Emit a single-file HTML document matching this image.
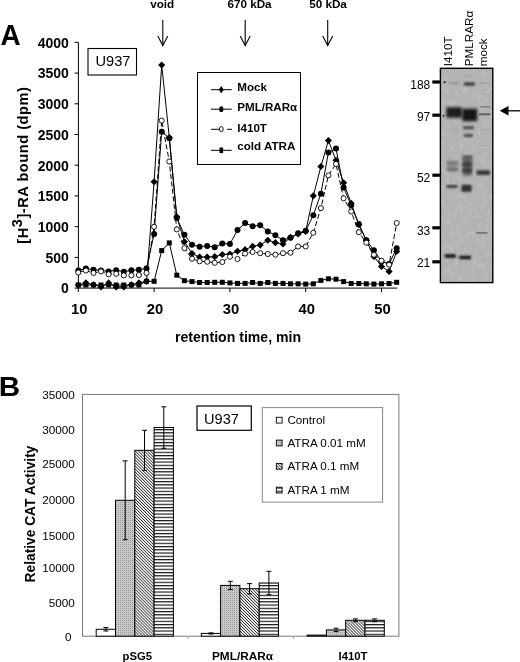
<!DOCTYPE html>
<html><head><meta charset="utf-8"><style>
html,body{margin:0;padding:0;background:#fff;width:520px;height:662px;overflow:hidden}
svg{display:block;filter:blur(0.35px)}
text{font-family:"Liberation Sans",sans-serif;fill:#000}
</style></head><body>
<svg width="520" height="662" viewBox="0 0 520 662">
<rect width="520" height="662" fill="#fff"/>
<text transform="translate(0.6,44.9) scale(0.93,1)" font-size="30" font-weight="bold">A</text>
<line x1="78.4" y1="42.3" x2="78.4" y2="288.1" stroke="#000" stroke-width="1"/>
<line x1="74.6" y1="288.1" x2="78.4" y2="288.1" stroke="#000" stroke-width="1"/>
<text x="68.8" y="293.4" font-size="14" font-weight="bold" text-anchor="end">0</text>
<line x1="74.6" y1="257.4" x2="78.4" y2="257.4" stroke="#000" stroke-width="1"/>
<text x="68.8" y="262.7" font-size="14" font-weight="bold" text-anchor="end">500</text>
<line x1="74.6" y1="226.7" x2="78.4" y2="226.7" stroke="#000" stroke-width="1"/>
<text x="68.8" y="232.0" font-size="14" font-weight="bold" text-anchor="end">1000</text>
<line x1="74.6" y1="195.9" x2="78.4" y2="195.9" stroke="#000" stroke-width="1"/>
<text x="68.8" y="201.2" font-size="14" font-weight="bold" text-anchor="end">1500</text>
<line x1="74.6" y1="165.2" x2="78.4" y2="165.2" stroke="#000" stroke-width="1"/>
<text x="68.8" y="170.5" font-size="14" font-weight="bold" text-anchor="end">2000</text>
<line x1="74.6" y1="134.5" x2="78.4" y2="134.5" stroke="#000" stroke-width="1"/>
<text x="68.8" y="139.8" font-size="14" font-weight="bold" text-anchor="end">2500</text>
<line x1="74.6" y1="103.8" x2="78.4" y2="103.8" stroke="#000" stroke-width="1"/>
<text x="68.8" y="109.1" font-size="14" font-weight="bold" text-anchor="end">3000</text>
<line x1="74.6" y1="73.1" x2="78.4" y2="73.1" stroke="#000" stroke-width="1"/>
<text x="68.8" y="78.4" font-size="14" font-weight="bold" text-anchor="end">3500</text>
<line x1="74.6" y1="42.3" x2="78.4" y2="42.3" stroke="#000" stroke-width="1"/>
<text x="68.8" y="47.6" font-size="14" font-weight="bold" text-anchor="end">4000</text>
<line x1="78.3" y1="288.1" x2="397.2" y2="288.1" stroke="#000" stroke-width="1"/>
<line x1="78.3" y1="288.1" x2="78.3" y2="292" stroke="#000" stroke-width="1"/>
<text x="79.3" y="314.3" font-size="14.8" font-weight="bold" text-anchor="middle">10</text>
<line x1="154.1" y1="288.1" x2="154.1" y2="292" stroke="#000" stroke-width="1"/>
<text x="155.1" y="314.3" font-size="14.8" font-weight="bold" text-anchor="middle">20</text>
<line x1="229.9" y1="288.1" x2="229.9" y2="292" stroke="#000" stroke-width="1"/>
<text x="230.9" y="314.3" font-size="14.8" font-weight="bold" text-anchor="middle">30</text>
<line x1="305.7" y1="288.1" x2="305.7" y2="292" stroke="#000" stroke-width="1"/>
<text x="306.7" y="314.3" font-size="14.8" font-weight="bold" text-anchor="middle">40</text>
<line x1="381.5" y1="288.1" x2="381.5" y2="292" stroke="#000" stroke-width="1"/>
<text x="382.5" y="314.3" font-size="14.8" font-weight="bold" text-anchor="middle">50</text>
<text x="175" y="342.4" font-size="14.1" font-weight="bold">retention time, min</text>
<text transform="translate(28.1,165.4) rotate(-90)" font-size="14.6" font-weight="bold" text-anchor="middle" textLength="156.5" lengthAdjust="spacing">[H<tspan dy="-6.5">3</tspan><tspan dy="6.5">]-RA bound (dpm)</tspan></text>
<rect x="88" y="48.5" width="48.5" height="26.5" fill="none" stroke="#000" stroke-width="1.1"/>
<text x="95.5" y="66" font-size="14.6">U937</text>
<line x1="162.8" y1="20" x2="162.8" y2="45.5" stroke="#000" stroke-width="1.1"/>
<polyline points="157.8,36 162.8,45.6 167.8,36" fill="none" stroke="#000" stroke-width="1.1"/>
<text x="162.2" y="8" font-size="11.7" font-weight="bold" text-anchor="middle">void</text>
<line x1="245.2" y1="20" x2="245.2" y2="45.5" stroke="#000" stroke-width="1.1"/>
<polyline points="240.2,36 245.2,45.6 250.2,36" fill="none" stroke="#000" stroke-width="1.1"/>
<text x="249.5" y="8" font-size="11.7" font-weight="bold" text-anchor="middle">670 kDa</text>
<line x1="327.7" y1="20" x2="327.7" y2="45.5" stroke="#000" stroke-width="1.1"/>
<polyline points="322.7,36 327.7,45.6 332.7,36" fill="none" stroke="#000" stroke-width="1.1"/>
<text x="328" y="8" font-size="11.7" font-weight="bold" text-anchor="middle">50 kDa</text>
<polyline points="78.3,285.0 85.9,282.9 93.5,284.7 101.0,286.9 108.6,282.9 116.2,286.9 123.8,286.9 131.4,284.7 138.9,282.9 146.5,281.3 154.1,181.8 161.7,65.0 169.3,137.5 176.8,216.8 184.4,241.7 192.0,253.6 199.6,257.1 207.2,257.1 214.7,256.7 222.3,254.5 229.9,254.0 237.5,251.3 245.1,249.7 252.6,246.3 260.2,245.1 267.8,240.2 275.4,242.7 283.0,244.0 290.5,237.3 298.1,234.0 305.7,231.4 313.3,195.8 320.9,166.6 328.4,140.5 336.0,160.3 343.6,182.8 351.2,203.3 358.8,224.7 366.3,240.2 373.9,256.5 381.5,266.4 389.1,271.4 396.7,251.5" fill="none" stroke="#000" stroke-width="1" />
<path d="M78.3,281.5 L81.8,285.0 L78.3,288.6 L74.8,285.0Z" fill="#000"/>
<path d="M85.9,279.3 L89.4,282.9 L85.9,286.4 L82.3,282.9Z" fill="#000"/>
<path d="M93.5,281.2 L97.0,284.7 L93.5,288.3 L89.9,284.7Z" fill="#000"/>
<path d="M101.0,283.3 L104.6,286.9 L101.0,290.4 L97.5,286.9Z" fill="#000"/>
<path d="M108.6,279.3 L112.2,282.9 L108.6,286.4 L105.1,282.9Z" fill="#000"/>
<path d="M116.2,283.3 L119.7,286.9 L116.2,290.4 L112.6,286.9Z" fill="#000"/>
<path d="M123.8,283.3 L127.3,286.9 L123.8,290.4 L120.2,286.9Z" fill="#000"/>
<path d="M131.4,281.2 L134.9,284.7 L131.4,288.3 L127.8,284.7Z" fill="#000"/>
<path d="M138.9,279.3 L142.5,282.9 L138.9,286.4 L135.4,282.9Z" fill="#000"/>
<path d="M146.5,277.8 L150.1,281.3 L146.5,284.9 L143.0,281.3Z" fill="#000"/>
<path d="M154.1,178.2 L157.7,181.8 L154.1,185.3 L150.5,181.8Z" fill="#000"/>
<path d="M161.7,61.5 L165.2,65.0 L161.7,68.6 L158.1,65.0Z" fill="#000"/>
<path d="M169.3,134.0 L172.8,137.5 L169.3,141.1 L165.7,137.5Z" fill="#000"/>
<path d="M176.8,213.3 L180.4,216.8 L176.8,220.4 L173.3,216.8Z" fill="#000"/>
<path d="M184.4,238.2 L188.0,241.7 L184.4,245.3 L180.9,241.7Z" fill="#000"/>
<path d="M192.0,250.1 L195.6,253.6 L192.0,257.2 L188.4,253.6Z" fill="#000"/>
<path d="M199.6,253.6 L203.1,257.1 L199.6,260.7 L196.0,257.1Z" fill="#000"/>
<path d="M207.2,253.5 L210.7,257.1 L207.2,260.6 L203.6,257.1Z" fill="#000"/>
<path d="M214.7,253.1 L218.3,256.7 L214.7,260.2 L211.2,256.7Z" fill="#000"/>
<path d="M222.3,250.9 L225.9,254.5 L222.3,258.0 L218.8,254.5Z" fill="#000"/>
<path d="M229.9,250.4 L233.4,254.0 L229.9,257.5 L226.3,254.0Z" fill="#000"/>
<path d="M237.5,247.7 L241.0,251.3 L237.5,254.8 L233.9,251.3Z" fill="#000"/>
<path d="M245.1,246.1 L248.6,249.7 L245.1,253.2 L241.5,249.7Z" fill="#000"/>
<path d="M252.6,242.8 L256.2,246.3 L252.6,249.9 L249.1,246.3Z" fill="#000"/>
<path d="M260.2,241.6 L263.8,245.1 L260.2,248.7 L256.7,245.1Z" fill="#000"/>
<path d="M267.8,236.7 L271.4,240.2 L267.8,243.8 L264.2,240.2Z" fill="#000"/>
<path d="M275.4,239.1 L278.9,242.7 L275.4,246.2 L271.8,242.7Z" fill="#000"/>
<path d="M283.0,240.4 L286.5,244.0 L283.0,247.5 L279.4,244.0Z" fill="#000"/>
<path d="M290.5,233.7 L294.1,237.3 L290.5,240.8 L287.0,237.3Z" fill="#000"/>
<path d="M298.1,230.4 L301.7,234.0 L298.1,237.5 L294.6,234.0Z" fill="#000"/>
<path d="M305.7,227.9 L309.2,231.4 L305.7,235.0 L302.1,231.4Z" fill="#000"/>
<path d="M313.3,192.3 L316.8,195.8 L313.3,199.4 L309.7,195.8Z" fill="#000"/>
<path d="M320.9,163.0 L324.4,166.6 L320.9,170.1 L317.3,166.6Z" fill="#000"/>
<path d="M328.4,136.9 L332.0,140.5 L328.4,144.0 L324.9,140.5Z" fill="#000"/>
<path d="M336.0,156.7 L339.6,160.3 L336.0,163.8 L332.5,160.3Z" fill="#000"/>
<path d="M343.6,179.2 L347.2,182.8 L343.6,186.3 L340.1,182.8Z" fill="#000"/>
<path d="M351.2,199.7 L354.7,203.3 L351.2,206.8 L347.6,203.3Z" fill="#000"/>
<path d="M358.8,221.2 L362.3,224.7 L358.8,228.3 L355.2,224.7Z" fill="#000"/>
<path d="M366.3,236.7 L369.9,240.2 L366.3,243.8 L362.8,240.2Z" fill="#000"/>
<path d="M373.9,252.9 L377.5,256.5 L373.9,260.0 L370.4,256.5Z" fill="#000"/>
<path d="M381.5,262.9 L385.1,266.4 L381.5,270.0 L377.9,266.4Z" fill="#000"/>
<path d="M389.1,267.8 L392.6,271.4 L389.1,274.9 L385.5,271.4Z" fill="#000"/>
<path d="M396.7,247.9 L400.2,251.5 L396.7,255.0 L393.1,251.5Z" fill="#000"/>
<polyline points="78.3,270.5 85.9,268.4 93.5,269.8 101.0,270.5 108.6,271.4 116.2,270.2 123.8,271.8 131.4,270.2 138.9,269.8 146.5,268.4 154.1,234.0 161.7,131.7 169.3,138.2 176.8,218.0 184.4,234.8 192.0,244.8 199.6,246.7 207.2,245.9 214.7,247.2 222.3,243.5 229.9,244.0 237.5,230.0 245.1,223.0 252.6,226.2 260.2,225.2 267.8,231.4 275.4,235.3 283.0,240.2 290.5,237.7 298.1,233.2 305.7,230.8 313.3,215.2 320.9,193.7 328.4,152.6 336.0,148.6 343.6,187.4 351.2,205.3 358.8,224.1 366.3,240.2 373.9,250.2 381.5,261.4 389.1,263.9 396.7,248.2" fill="none" stroke="#000" stroke-width="1" />
<circle cx="78.3" cy="270.5" r="3.0" fill="#000"/>
<circle cx="85.9" cy="268.4" r="3.0" fill="#000"/>
<circle cx="93.5" cy="269.8" r="3.0" fill="#000"/>
<circle cx="101.0" cy="270.5" r="3.0" fill="#000"/>
<circle cx="108.6" cy="271.4" r="3.0" fill="#000"/>
<circle cx="116.2" cy="270.2" r="3.0" fill="#000"/>
<circle cx="123.8" cy="271.8" r="3.0" fill="#000"/>
<circle cx="131.4" cy="270.2" r="3.0" fill="#000"/>
<circle cx="138.9" cy="269.8" r="3.0" fill="#000"/>
<circle cx="146.5" cy="268.4" r="3.0" fill="#000"/>
<circle cx="154.1" cy="234.0" r="3.0" fill="#000"/>
<circle cx="161.7" cy="131.7" r="3.0" fill="#000"/>
<circle cx="169.3" cy="138.2" r="3.0" fill="#000"/>
<circle cx="176.8" cy="218.0" r="3.0" fill="#000"/>
<circle cx="184.4" cy="234.8" r="3.0" fill="#000"/>
<circle cx="192.0" cy="244.8" r="3.0" fill="#000"/>
<circle cx="199.6" cy="246.7" r="3.0" fill="#000"/>
<circle cx="207.2" cy="245.9" r="3.0" fill="#000"/>
<circle cx="214.7" cy="247.2" r="3.0" fill="#000"/>
<circle cx="222.3" cy="243.5" r="3.0" fill="#000"/>
<circle cx="229.9" cy="244.0" r="3.0" fill="#000"/>
<circle cx="237.5" cy="230.0" r="3.0" fill="#000"/>
<circle cx="245.1" cy="223.0" r="3.0" fill="#000"/>
<circle cx="252.6" cy="226.2" r="3.0" fill="#000"/>
<circle cx="260.2" cy="225.2" r="3.0" fill="#000"/>
<circle cx="267.8" cy="231.4" r="3.0" fill="#000"/>
<circle cx="275.4" cy="235.3" r="3.0" fill="#000"/>
<circle cx="283.0" cy="240.2" r="3.0" fill="#000"/>
<circle cx="290.5" cy="237.7" r="3.0" fill="#000"/>
<circle cx="298.1" cy="233.2" r="3.0" fill="#000"/>
<circle cx="305.7" cy="230.8" r="3.0" fill="#000"/>
<circle cx="313.3" cy="215.2" r="3.0" fill="#000"/>
<circle cx="320.9" cy="193.7" r="3.0" fill="#000"/>
<circle cx="328.4" cy="152.6" r="3.0" fill="#000"/>
<circle cx="336.0" cy="148.6" r="3.0" fill="#000"/>
<circle cx="343.6" cy="187.4" r="3.0" fill="#000"/>
<circle cx="351.2" cy="205.3" r="3.0" fill="#000"/>
<circle cx="358.8" cy="224.1" r="3.0" fill="#000"/>
<circle cx="366.3" cy="240.2" r="3.0" fill="#000"/>
<circle cx="373.9" cy="250.2" r="3.0" fill="#000"/>
<circle cx="381.5" cy="261.4" r="3.0" fill="#000"/>
<circle cx="389.1" cy="263.9" r="3.0" fill="#000"/>
<circle cx="396.7" cy="248.2" r="3.0" fill="#000"/>
<polyline points="78.3,272.5 85.9,270.5 93.5,273.0 101.0,271.4 108.6,274.3 116.2,273.8 123.8,275.4 131.4,275.4 138.9,275.0 146.5,273.0 154.1,226.8 161.7,120.6 169.3,161.5 176.8,229.4 184.4,248.2 192.0,258.7 199.6,261.3 207.2,261.7 214.7,262.8 222.3,262.0 229.9,256.7 237.5,259.0 245.1,253.6 252.6,252.0 260.2,253.2 267.8,254.0 275.4,254.7 283.0,253.2 290.5,252.7 298.1,246.5 305.7,246.5 313.3,232.8 320.9,208.1 328.4,175.4 336.0,164.0 343.6,198.3 351.2,211.5 358.8,232.2 366.3,242.7 373.9,254.7 381.5,260.7 389.1,264.7 396.7,223.0" fill="none" stroke="#000" stroke-width="1" stroke-dasharray="5,2.5"/>
<circle cx="78.3" cy="272.5" r="2.55" fill="#fff" stroke="#000" stroke-width="0.9"/>
<circle cx="85.9" cy="270.5" r="2.55" fill="#fff" stroke="#000" stroke-width="0.9"/>
<circle cx="93.5" cy="273.0" r="2.55" fill="#fff" stroke="#000" stroke-width="0.9"/>
<circle cx="101.0" cy="271.4" r="2.55" fill="#fff" stroke="#000" stroke-width="0.9"/>
<circle cx="108.6" cy="274.3" r="2.55" fill="#fff" stroke="#000" stroke-width="0.9"/>
<circle cx="116.2" cy="273.8" r="2.55" fill="#fff" stroke="#000" stroke-width="0.9"/>
<circle cx="123.8" cy="275.4" r="2.55" fill="#fff" stroke="#000" stroke-width="0.9"/>
<circle cx="131.4" cy="275.4" r="2.55" fill="#fff" stroke="#000" stroke-width="0.9"/>
<circle cx="138.9" cy="275.0" r="2.55" fill="#fff" stroke="#000" stroke-width="0.9"/>
<circle cx="146.5" cy="273.0" r="2.55" fill="#fff" stroke="#000" stroke-width="0.9"/>
<circle cx="154.1" cy="226.8" r="2.55" fill="#fff" stroke="#000" stroke-width="0.9"/>
<circle cx="161.7" cy="120.6" r="2.55" fill="#fff" stroke="#000" stroke-width="0.9"/>
<circle cx="169.3" cy="161.5" r="2.55" fill="#fff" stroke="#000" stroke-width="0.9"/>
<circle cx="176.8" cy="229.4" r="2.55" fill="#fff" stroke="#000" stroke-width="0.9"/>
<circle cx="184.4" cy="248.2" r="2.55" fill="#fff" stroke="#000" stroke-width="0.9"/>
<circle cx="192.0" cy="258.7" r="2.55" fill="#fff" stroke="#000" stroke-width="0.9"/>
<circle cx="199.6" cy="261.3" r="2.55" fill="#fff" stroke="#000" stroke-width="0.9"/>
<circle cx="207.2" cy="261.7" r="2.55" fill="#fff" stroke="#000" stroke-width="0.9"/>
<circle cx="214.7" cy="262.8" r="2.55" fill="#fff" stroke="#000" stroke-width="0.9"/>
<circle cx="222.3" cy="262.0" r="2.55" fill="#fff" stroke="#000" stroke-width="0.9"/>
<circle cx="229.9" cy="256.7" r="2.55" fill="#fff" stroke="#000" stroke-width="0.9"/>
<circle cx="237.5" cy="259.0" r="2.55" fill="#fff" stroke="#000" stroke-width="0.9"/>
<circle cx="245.1" cy="253.6" r="2.55" fill="#fff" stroke="#000" stroke-width="0.9"/>
<circle cx="252.6" cy="252.0" r="2.55" fill="#fff" stroke="#000" stroke-width="0.9"/>
<circle cx="260.2" cy="253.2" r="2.55" fill="#fff" stroke="#000" stroke-width="0.9"/>
<circle cx="267.8" cy="254.0" r="2.55" fill="#fff" stroke="#000" stroke-width="0.9"/>
<circle cx="275.4" cy="254.7" r="2.55" fill="#fff" stroke="#000" stroke-width="0.9"/>
<circle cx="283.0" cy="253.2" r="2.55" fill="#fff" stroke="#000" stroke-width="0.9"/>
<circle cx="290.5" cy="252.7" r="2.55" fill="#fff" stroke="#000" stroke-width="0.9"/>
<circle cx="298.1" cy="246.5" r="2.55" fill="#fff" stroke="#000" stroke-width="0.9"/>
<circle cx="305.7" cy="246.5" r="2.55" fill="#fff" stroke="#000" stroke-width="0.9"/>
<circle cx="313.3" cy="232.8" r="2.55" fill="#fff" stroke="#000" stroke-width="0.9"/>
<circle cx="320.9" cy="208.1" r="2.55" fill="#fff" stroke="#000" stroke-width="0.9"/>
<circle cx="328.4" cy="175.4" r="2.55" fill="#fff" stroke="#000" stroke-width="0.9"/>
<circle cx="336.0" cy="164.0" r="2.55" fill="#fff" stroke="#000" stroke-width="0.9"/>
<circle cx="343.6" cy="198.3" r="2.55" fill="#fff" stroke="#000" stroke-width="0.9"/>
<circle cx="351.2" cy="211.5" r="2.55" fill="#fff" stroke="#000" stroke-width="0.9"/>
<circle cx="358.8" cy="232.2" r="2.55" fill="#fff" stroke="#000" stroke-width="0.9"/>
<circle cx="366.3" cy="242.7" r="2.55" fill="#fff" stroke="#000" stroke-width="0.9"/>
<circle cx="373.9" cy="254.7" r="2.55" fill="#fff" stroke="#000" stroke-width="0.9"/>
<circle cx="381.5" cy="260.7" r="2.55" fill="#fff" stroke="#000" stroke-width="0.9"/>
<circle cx="389.1" cy="264.7" r="2.55" fill="#fff" stroke="#000" stroke-width="0.9"/>
<circle cx="396.7" cy="223.0" r="2.55" fill="#fff" stroke="#000" stroke-width="0.9"/>
<polyline points="78.3,285.0 85.9,285.0 93.5,285.0 101.0,285.0 108.6,285.0 116.2,285.0 123.8,285.0 131.4,285.0 138.9,285.0 146.5,281.3 154.1,281.3 161.7,250.6 169.3,242.9 176.8,275.2 184.4,280.7 192.0,281.6 199.6,282.5 207.2,282.5 214.7,282.3 222.3,282.3 229.9,282.9 237.5,283.4 245.1,283.4 252.6,282.5 260.2,283.4 267.8,282.5 275.4,283.4 283.0,283.4 290.5,283.8 298.1,283.8 305.7,284.1 313.3,283.8 320.9,280.4 328.4,278.8 336.0,279.2 343.6,281.6 351.2,283.5 358.8,283.5 366.3,283.8 373.9,284.1 381.5,283.8 389.1,283.5 396.7,282.3" fill="none" stroke="#000" stroke-width="1" />
<rect x="75.8" y="282.5" width="5.0" height="5.0" fill="#000"/>
<rect x="83.4" y="282.5" width="5.0" height="5.0" fill="#000"/>
<rect x="91.0" y="282.5" width="5.0" height="5.0" fill="#000"/>
<rect x="98.5" y="282.5" width="5.0" height="5.0" fill="#000"/>
<rect x="106.1" y="282.5" width="5.0" height="5.0" fill="#000"/>
<rect x="113.7" y="282.5" width="5.0" height="5.0" fill="#000"/>
<rect x="121.3" y="282.5" width="5.0" height="5.0" fill="#000"/>
<rect x="128.9" y="282.5" width="5.0" height="5.0" fill="#000"/>
<rect x="136.4" y="282.5" width="5.0" height="5.0" fill="#000"/>
<rect x="144.0" y="278.8" width="5.0" height="5.0" fill="#000"/>
<rect x="151.6" y="278.8" width="5.0" height="5.0" fill="#000"/>
<rect x="159.2" y="248.1" width="5.0" height="5.0" fill="#000"/>
<rect x="166.8" y="240.4" width="5.0" height="5.0" fill="#000"/>
<rect x="174.3" y="272.7" width="5.0" height="5.0" fill="#000"/>
<rect x="181.9" y="278.2" width="5.0" height="5.0" fill="#000"/>
<rect x="189.5" y="279.1" width="5.0" height="5.0" fill="#000"/>
<rect x="197.1" y="280.0" width="5.0" height="5.0" fill="#000"/>
<rect x="204.7" y="280.0" width="5.0" height="5.0" fill="#000"/>
<rect x="212.2" y="279.8" width="5.0" height="5.0" fill="#000"/>
<rect x="219.8" y="279.8" width="5.0" height="5.0" fill="#000"/>
<rect x="227.4" y="280.4" width="5.0" height="5.0" fill="#000"/>
<rect x="235.0" y="280.9" width="5.0" height="5.0" fill="#000"/>
<rect x="242.6" y="280.9" width="5.0" height="5.0" fill="#000"/>
<rect x="250.1" y="280.0" width="5.0" height="5.0" fill="#000"/>
<rect x="257.7" y="280.9" width="5.0" height="5.0" fill="#000"/>
<rect x="265.3" y="280.0" width="5.0" height="5.0" fill="#000"/>
<rect x="272.9" y="280.9" width="5.0" height="5.0" fill="#000"/>
<rect x="280.5" y="280.9" width="5.0" height="5.0" fill="#000"/>
<rect x="288.0" y="281.3" width="5.0" height="5.0" fill="#000"/>
<rect x="295.6" y="281.3" width="5.0" height="5.0" fill="#000"/>
<rect x="303.2" y="281.6" width="5.0" height="5.0" fill="#000"/>
<rect x="310.8" y="281.3" width="5.0" height="5.0" fill="#000"/>
<rect x="318.4" y="277.9" width="5.0" height="5.0" fill="#000"/>
<rect x="325.9" y="276.3" width="5.0" height="5.0" fill="#000"/>
<rect x="333.5" y="276.7" width="5.0" height="5.0" fill="#000"/>
<rect x="341.1" y="279.1" width="5.0" height="5.0" fill="#000"/>
<rect x="348.7" y="281.0" width="5.0" height="5.0" fill="#000"/>
<rect x="356.3" y="281.0" width="5.0" height="5.0" fill="#000"/>
<rect x="363.8" y="281.3" width="5.0" height="5.0" fill="#000"/>
<rect x="371.4" y="281.6" width="5.0" height="5.0" fill="#000"/>
<rect x="379.0" y="281.3" width="5.0" height="5.0" fill="#000"/>
<rect x="386.6" y="281.0" width="5.0" height="5.0" fill="#000"/>
<rect x="394.2" y="279.8" width="5.0" height="5.0" fill="#000"/>
<rect x="197.5" y="72.5" width="103" height="92" fill="#fff" stroke="#000" stroke-width="1"/>
<line x1="211" y1="89.7" x2="231.7" y2="89.7" stroke="#000" stroke-width="1"/>
<path d="M221.3,86.10000000000001 L223.8,89.7 L221.3,93.3 L218.8,89.7Z" fill="#000"/>
<text x="237.3" y="91.2" font-size="11.6" font-weight="bold">Mock</text>
<line x1="211" y1="109.2" x2="231.7" y2="109.2" stroke="#000" stroke-width="1"/>
<ellipse cx="221.3" cy="109.2" rx="2.1" ry="2.9" fill="#000"/>
<text x="237.3" y="111.1" font-size="11.6" font-weight="bold">PML/RARα</text>
<line x1="211" y1="129.3" x2="219" y2="129.3" stroke="#000" stroke-width="1"/>
<line x1="227" y1="129.3" x2="232" y2="129.3" stroke="#000" stroke-width="1"/>
<ellipse cx="221.3" cy="129.10000000000002" rx="1.9" ry="2.6" fill="#fff" stroke="#000" stroke-width="0.9"/>
<text x="237.3" y="132.2" font-size="11.6" font-weight="bold">I410T</text>
<line x1="211" y1="150.3" x2="231.7" y2="150.3" stroke="#000" stroke-width="1"/>
<rect x="219.5" y="147.5" width="3.6" height="5.6" fill="#000"/>
<text x="237.3" y="149.6" font-size="11.6" font-weight="bold">cold ATRA</text>
<defs><filter id="bl1" x="-50%" y="-50%" width="200%" height="200%"><feGaussianBlur stdDeviation="1.2"/></filter><filter id="bl2" x="-50%" y="-50%" width="200%" height="200%"><feGaussianBlur stdDeviation="0.8"/></filter><filter id="noise" x="0" y="0" width="100%" height="100%" filterUnits="objectBoundingBox"><feTurbulence type="fractalNoise" baseFrequency="0.22 0.16" numOctaves="2" seed="7"/><feColorMatrix type="matrix" values="0 0 0 0 1  0 0 0 0 1  0 0 0 0 1  -2 0 0 0 1.1"/><feGaussianBlur stdDeviation="0.5"/></filter><filter id="noise2" x="0" y="0" width="100%" height="100%" filterUnits="objectBoundingBox"><feTurbulence type="fractalNoise" baseFrequency="0.22 0.16" numOctaves="2" seed="11"/><feColorMatrix type="matrix" values="0 0 0 0 0.45  0 0 0 0 0.45  0 0 0 0 0.45  2 0 0 0 -0.9"/><feGaussianBlur stdDeviation="0.5"/></filter><clipPath id="gclip"><rect x="440.4" y="68.3" width="52.4" height="214.3"/></clipPath></defs>
<rect x="440.4" y="68.3" width="52.400000000000034" height="214.3" fill="#b3b3b3"/>
<g clip-path="url(#gclip)">
<rect x="440.4" y="68.3" width="52.400000000000034" height="214.3" filter="url(#noise)" opacity="0.22"/>
<rect x="440.4" y="68.3" width="52.400000000000034" height="214.3" filter="url(#noise2)" opacity="0.25"/>
<filter id="gb8" x="-50%" y="-100%" width="200%" height="300%"><feGaussianBlur stdDeviation="0.8"/></filter>
<rect x="449" y="81.9" width="10.0" height="2.2" rx="1" fill="#8c8c8c" filter="url(#gb8)"/>
<filter id="gb16" x="-50%" y="-100%" width="200%" height="300%"><feGaussianBlur stdDeviation="1.6"/></filter>
<rect x="446.4" y="107.2" width="15.6" height="10.5" rx="1" fill="#1a1a1a" filter="url(#gb16)"/>
<rect x="449" y="128.7" width="11.0" height="2" rx="1" fill="#a6a6a6" filter="url(#gb8)"/>
<filter id="gb14" x="-50%" y="-100%" width="200%" height="300%"><feGaussianBlur stdDeviation="1.4"/></filter>
<rect x="447" y="160.5" width="11.0" height="11" rx="1" fill="#8c8c8c" filter="url(#gb14)"/>
<filter id="gb9" x="-50%" y="-100%" width="200%" height="300%"><feGaussianBlur stdDeviation="0.9"/></filter>
<rect x="447" y="161.8" width="11.0" height="2.5" rx="1" fill="#777" filter="url(#gb9)"/>
<rect x="447" y="168.3" width="11.0" height="2.5" rx="1" fill="#6e6e6e" filter="url(#gb9)"/>
<rect x="446.4" y="185.1" width="11.1" height="3" rx="1" fill="#3c3c3c" filter="url(#gb9)"/>
<rect x="444.7" y="254.2" width="11.2" height="3.6" rx="1" fill="#161616" filter="url(#gb8)"/>
<rect x="465" y="75.2" width="8.0" height="1.5" rx="1" fill="#a2a2a2" filter="url(#gb8)"/>
<rect x="464" y="82.5" width="11.0" height="3" rx="1" fill="#2e2e2e" filter="url(#gb9)"/>
<rect x="462.2" y="108.8" width="15.0" height="12.5" rx="1" fill="#121212" filter="url(#gb16)"/>
<rect x="463" y="126.3" width="11.0" height="3" rx="1" fill="#444" filter="url(#gb9)"/>
<rect x="464" y="134.0" width="9.0" height="3" rx="1" fill="#4a4a4a" filter="url(#gb9)"/>
<rect x="462.6" y="156.5" width="9.4" height="19" rx="1" fill="#5e5e5e" filter="url(#gb16)"/>
<filter id="gb10" x="-50%" y="-100%" width="200%" height="300%"><feGaussianBlur stdDeviation="1.0"/></filter>
<rect x="462.6" y="155.5" width="9.4" height="3" rx="1" fill="#585858" filter="url(#gb10)"/>
<filter id="gb11" x="-50%" y="-100%" width="200%" height="300%"><feGaussianBlur stdDeviation="1.1"/></filter>
<rect x="462.6" y="162.5" width="9.4" height="4" rx="1" fill="#3c3c3c" filter="url(#gb11)"/>
<rect x="462.6" y="168.5" width="9.4" height="4" rx="1" fill="#3c3c3c" filter="url(#gb11)"/>
<filter id="gb12" x="-50%" y="-100%" width="200%" height="300%"><feGaussianBlur stdDeviation="1.2"/></filter>
<rect x="461.5" y="184.7" width="10.0" height="7" rx="1" fill="#2e2e2e" filter="url(#gb12)"/>
<rect x="459.2" y="255.8" width="11.8" height="3.4" rx="1" fill="#161616" filter="url(#gb8)"/>
<filter id="gb7" x="-50%" y="-100%" width="200%" height="300%"><feGaussianBlur stdDeviation="0.7"/></filter>
<rect x="480" y="82.5" width="10.0" height="1.5" rx="1" fill="#a0a0a0" filter="url(#gb7)"/>
<rect x="480" y="93.9" width="10.0" height="1.2" rx="1" fill="#acacac" filter="url(#gb7)"/>
<rect x="480" y="105.9" width="10.5" height="1.8" rx="1" fill="#858585" filter="url(#gb7)"/>
<rect x="478.8" y="113.3" width="11.7" height="2" rx="1" fill="#606060" filter="url(#gb7)"/>
<rect x="480" y="129.1" width="10.0" height="1.2" rx="1" fill="#a8a8a8" filter="url(#gb7)"/>
<rect x="480" y="145.0" width="10.0" height="1.2" rx="1" fill="#ababab" filter="url(#gb7)"/>
<rect x="476.5" y="170.3" width="13.5" height="4.8" rx="1" fill="#383838" filter="url(#gb10)"/>
<rect x="476" y="232.0" width="11.7" height="1.8" rx="1" fill="#777" filter="url(#gb7)"/>
<rect x="480" y="258.6" width="7.0" height="1.2" rx="1" fill="#aaa" filter="url(#gb7)"/>
<filter id="gb5" x="-50%" y="-100%" width="200%" height="300%"><feGaussianBlur stdDeviation="0.5"/></filter>
<rect x="443.5" y="81.2" width="2.5" height="2" rx="1" fill="#333" filter="url(#gb5)"/>
<rect x="442.5" y="114.7" width="2.0" height="2" rx="1" fill="#333" filter="url(#gb5)"/>
</g>
<rect x="440.4" y="68.3" width="52.400000000000034" height="214.3" fill="none" stroke="#000" stroke-width="1.4"/>
<rect x="432.3" y="80.4" width="7.6" height="3.2" fill="#000"/>
<text x="430.3" y="88.89999999999999" font-size="12" text-anchor="end">188</text>
<rect x="432.3" y="113.60000000000001" width="7.6" height="3.2" fill="#000"/>
<text x="430.3" y="120.8" font-size="12" text-anchor="end">97</text>
<rect x="432.3" y="173.6" width="7.6" height="3.2" fill="#000"/>
<text x="430.3" y="182.3" font-size="12" text-anchor="end">52</text>
<rect x="432.3" y="226.20000000000002" width="7.6" height="3.2" fill="#000"/>
<text x="430.3" y="235.3" font-size="12" text-anchor="end">33</text>
<rect x="432.3" y="260.2" width="7.6" height="3.2" fill="#000"/>
<text x="430.3" y="266.8" font-size="12" text-anchor="end">21</text>
<text transform="translate(452.3,66.3) rotate(-90)" font-size="11.7">I410T</text>
<text transform="translate(472.8,66.3) rotate(-90)" font-size="11.7">PMLRARα</text>
<text transform="translate(486.8,66.3) rotate(-90)" font-size="11.7">mock</text>
<line x1="506" y1="110.8" x2="520" y2="110.8" stroke="#000" stroke-width="1.3"/>
<path d="M499.7,110.8 L508.5,106 L508.5,115.6Z" fill="#000"/>
<text transform="translate(-1.3,396.4) scale(1.05,1)" font-size="28.2" font-weight="bold">B</text>
<rect x="82.5" y="394.4" width="316.4" height="241.8" fill="none" stroke="#7a7a7a" stroke-width="1"/>
<text x="71.5" y="641.0" font-size="11.7" text-anchor="end">0</text>
<text x="74.8" y="607.4" font-size="11.7" text-anchor="end">5000</text>
<text x="74.8" y="572.1" font-size="11.7" text-anchor="end">10000</text>
<text x="74.8" y="539.5" font-size="11.7" text-anchor="end">15000</text>
<text x="74.8" y="504.2" font-size="11.7" text-anchor="end">20000</text>
<text x="74.8" y="467.6" font-size="11.7" text-anchor="end">25000</text>
<text x="74.8" y="434.4" font-size="11.7" text-anchor="end">30000</text>
<text x="74.8" y="398.9" font-size="11.7" text-anchor="end">35000</text>
<text transform="translate(35.2,514) rotate(-90)" font-size="13.75" font-weight="bold" text-anchor="middle">Relative CAT Activity</text>
<line x1="187.9" y1="636.2" x2="187.9" y2="639" stroke="#999" stroke-width="0.8"/>
<line x1="293.4" y1="636.2" x2="293.4" y2="639" stroke="#999" stroke-width="0.8"/>
<defs><pattern id="pdot" width="2" height="2" patternUnits="userSpaceOnUse"><rect width="2" height="2" fill="#c8c8c8"/><rect width="1" height="1" fill="#9a9a9a"/></pattern><pattern id="pdiag" width="2.13" height="4" patternUnits="userSpaceOnUse" patternTransform="rotate(-45)"><rect width="2.13" height="4" fill="#fff"/><rect width="0.85" height="4" fill="#333"/></pattern><pattern id="phor" width="4" height="3.25" patternUnits="userSpaceOnUse"><rect width="4" height="3.25" fill="#fff"/><rect width="4" height="1.15" fill="#111"/></pattern></defs>
<rect x="96.2" y="629.3" width="19.3" height="6.9" fill="#fff" stroke="#000" stroke-width="1"/>
<rect x="115.5" y="500.3" width="19.3" height="135.9" fill="url(#pdot)" stroke="#000" stroke-width="1"/>
<rect x="134.8" y="450.3" width="19.3" height="185.9" fill="url(#pdiag)" stroke="#000" stroke-width="1"/>
<rect x="154.1" y="427.5" width="19.3" height="208.7" fill="url(#phor)" stroke="#000" stroke-width="1"/>
<line x1="105.9" y1="627.6" x2="105.9" y2="631.0" stroke="#000" stroke-width="1"/>
<line x1="103.4" y1="627.6" x2="108.4" y2="627.6" stroke="#000" stroke-width="1"/>
<line x1="103.4" y1="631.0" x2="108.4" y2="631.0" stroke="#000" stroke-width="1"/>
<line x1="125.2" y1="460.9" x2="125.2" y2="539.7" stroke="#000" stroke-width="1"/>
<line x1="122.7" y1="460.9" x2="127.7" y2="460.9" stroke="#000" stroke-width="1"/>
<line x1="122.7" y1="539.7" x2="127.7" y2="539.7" stroke="#000" stroke-width="1"/>
<line x1="144.5" y1="430.3" x2="144.5" y2="470.4" stroke="#000" stroke-width="1"/>
<line x1="142.0" y1="430.3" x2="147.0" y2="430.3" stroke="#000" stroke-width="1"/>
<line x1="142.0" y1="470.4" x2="147.0" y2="470.4" stroke="#000" stroke-width="1"/>
<line x1="163.8" y1="406.8" x2="163.8" y2="448.3" stroke="#000" stroke-width="1"/>
<line x1="161.3" y1="406.8" x2="166.3" y2="406.8" stroke="#000" stroke-width="1"/>
<line x1="161.3" y1="448.3" x2="166.3" y2="448.3" stroke="#000" stroke-width="1"/>
<rect x="201.3" y="633.4" width="19.3" height="2.8" fill="#fff" stroke="#000" stroke-width="1"/>
<rect x="220.6" y="585.4" width="19.3" height="50.8" fill="url(#pdot)" stroke="#000" stroke-width="1"/>
<rect x="239.9" y="588.7" width="19.3" height="47.5" fill="url(#pdiag)" stroke="#000" stroke-width="1"/>
<rect x="259.2" y="583.0" width="19.3" height="53.2" fill="url(#phor)" stroke="#000" stroke-width="1"/>
<line x1="211.0" y1="632.9" x2="211.0" y2="634.0" stroke="#000" stroke-width="1"/>
<line x1="208.5" y1="632.9" x2="213.5" y2="632.9" stroke="#000" stroke-width="1"/>
<line x1="208.5" y1="634.0" x2="213.5" y2="634.0" stroke="#000" stroke-width="1"/>
<line x1="230.3" y1="581.3" x2="230.3" y2="589.6" stroke="#000" stroke-width="1"/>
<line x1="227.8" y1="581.3" x2="232.8" y2="581.3" stroke="#000" stroke-width="1"/>
<line x1="227.8" y1="589.6" x2="232.8" y2="589.6" stroke="#000" stroke-width="1"/>
<line x1="249.6" y1="583.6" x2="249.6" y2="593.9" stroke="#000" stroke-width="1"/>
<line x1="247.1" y1="583.6" x2="252.1" y2="583.6" stroke="#000" stroke-width="1"/>
<line x1="247.1" y1="593.9" x2="252.1" y2="593.9" stroke="#000" stroke-width="1"/>
<line x1="268.9" y1="571.3" x2="268.9" y2="594.7" stroke="#000" stroke-width="1"/>
<line x1="266.4" y1="571.3" x2="271.4" y2="571.3" stroke="#000" stroke-width="1"/>
<line x1="266.4" y1="594.7" x2="271.4" y2="594.7" stroke="#000" stroke-width="1"/>
<rect x="307.1" y="635.1" width="19.3" height="1.1" fill="#fff" stroke="#000" stroke-width="1"/>
<rect x="326.4" y="629.9" width="19.3" height="6.3" fill="url(#pdot)" stroke="#000" stroke-width="1"/>
<rect x="345.7" y="620.3" width="19.3" height="15.9" fill="url(#pdiag)" stroke="#000" stroke-width="1"/>
<rect x="365.0" y="620.3" width="19.3" height="15.9" fill="url(#phor)" stroke="#000" stroke-width="1"/>
<line x1="336.1" y1="628.2" x2="336.1" y2="631.6" stroke="#000" stroke-width="1"/>
<line x1="333.6" y1="628.2" x2="338.6" y2="628.2" stroke="#000" stroke-width="1"/>
<line x1="333.6" y1="631.6" x2="338.6" y2="631.6" stroke="#000" stroke-width="1"/>
<line x1="355.4" y1="618.9" x2="355.4" y2="621.7" stroke="#000" stroke-width="1"/>
<line x1="352.9" y1="618.9" x2="357.9" y2="618.9" stroke="#000" stroke-width="1"/>
<line x1="352.9" y1="621.7" x2="357.9" y2="621.7" stroke="#000" stroke-width="1"/>
<line x1="374.6" y1="618.9" x2="374.6" y2="621.7" stroke="#000" stroke-width="1"/>
<line x1="372.1" y1="618.9" x2="377.1" y2="618.9" stroke="#000" stroke-width="1"/>
<line x1="372.1" y1="621.7" x2="377.1" y2="621.7" stroke="#000" stroke-width="1"/>
<text x="137.3" y="659.5" font-size="11.3" font-weight="bold" text-anchor="middle">pSG5</text>
<text x="242.5" y="659.5" font-size="11.8" font-weight="bold" text-anchor="middle">PML/RARα</text>
<text x="353" y="659.5" font-size="11.3" font-weight="bold" text-anchor="middle">I410T</text>
<rect x="197" y="406" width="54.3" height="24.3" fill="#fff" stroke="#000" stroke-width="1.2"/>
<text x="204" y="423.8" font-size="14.6">U937</text>
<rect x="262.3" y="407.6" width="120.3" height="94.5" fill="#fff" stroke="#888" stroke-width="1"/>
<rect x="276.3" y="417.3" width="5.8" height="5.8" fill="#fff" stroke="#000" stroke-width="0.9"/>
<text x="287.4" y="424.3" font-size="11.7">Control</text>
<rect x="276.3" y="440.1" width="5.8" height="5.8" fill="url(#pdot)" stroke="#000" stroke-width="0.9"/>
<text x="287.4" y="447.1" font-size="11.7">ATRA 0.01 mM</text>
<rect x="276.3" y="463.4" width="5.8" height="5.8" fill="url(#pdiag)" stroke="#000" stroke-width="0.9"/>
<text x="287.4" y="470.4" font-size="11.7">ATRA 0.1 mM</text>
<rect x="276.3" y="487.2" width="5.8" height="5.8" fill="url(#phor)" stroke="#000" stroke-width="0.9"/>
<text x="287.4" y="494.2" font-size="11.7">ATRA 1 mM</text>
</svg>
</body></html>
